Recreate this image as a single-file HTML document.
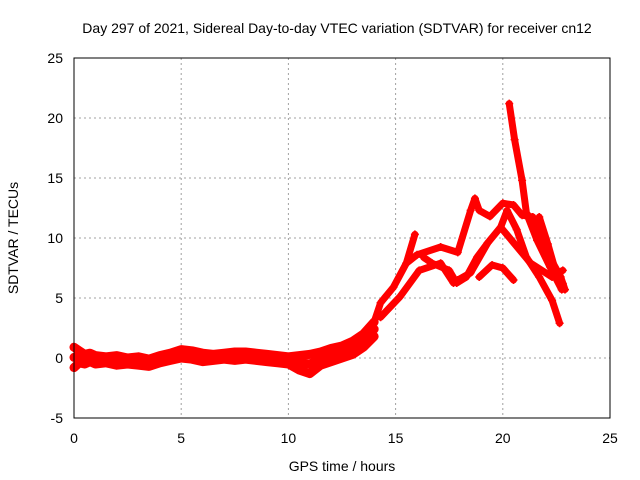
<!DOCTYPE html>
<html><head><meta charset="utf-8"><style>
body{margin:0;background:#fff;}
svg{display:block;font-family:"Liberation Sans",sans-serif;}
</style></head><body>
<svg id="chart" width="640" height="480">
<rect width="640" height="480" fill="#fff"/>
<text x="337" y="33" font-size="14" text-anchor="middle">Day 297 of 2021, Sidereal Day-to-day VTEC variation (SDTVAR) for receiver cn12</text>
<text x="342" y="471" font-size="14" text-anchor="middle">GPS time / hours</text>
<text x="0" y="0" font-size="14" text-anchor="middle" transform="translate(18,238) rotate(-90)">SDTVAR / TECUs</text>
<g id="grid"></g><g id="ticks"></g><g id="marks"></g>
<rect x="74" y="58" width="536" height="360" fill="none" stroke="#000" stroke-width="1"/>
</svg>
<script>
const xTicks=[0,5,10,15,20,25];
const yTicks=[-5,0,5,10,15,20,25];
const baseH=[0,0.25,0.5,0.75,1,1.5,2,2.5,3,3.5,4,4.5,5,5.5,6,6.5,7,7.5,8,8.5,9,9.5,10,10.5,11,11.5,12,12.5,13,13.5,14];
const baseA=[0.9,0.6,0.3,0.4,0.2,0.1,0.2,0.0,0.1,-0.1,0.2,0.4,0.7,0.6,0.4,0.3,0.4,0.5,0.5,0.4,0.3,0.2,0.1,0.2,0.3,0.5,0.8,1.0,1.4,2.0,3.0];
const baseB=[-0.8,-0.4,-0.5,-0.3,-0.5,-0.4,-0.6,-0.5,-0.6,-0.7,-0.4,-0.2,0.0,-0.1,-0.3,-0.2,-0.1,-0.2,-0.1,-0.2,-0.3,-0.4,-0.5,-1.0,-1.3,-0.6,-0.3,0.0,0.3,0.9,1.8];
const tracks=[
 [[14,3],[14.3,4.6],[14.9,5.9],[15.5,7.9],[15.9,10.3]],
 [[14.3,3.4],[15.2,5.1],[16.1,7.3],[17.1,7.9],[17.7,6.25],[17.9,6.5],[18.5,7.1],[19.3,9.6],[19.9,10.9],[20.2,12.3],[20.65,10.7],[21.1,8.4],[21.7,6.75],[22.3,4.8],[22.65,2.9]],
 [[15.5,7.9],[16.0,8.6],[17.1,9.25],[17.9,8.8],[18.5,12.3],[18.7,13.3],[18.9,12.3],[19.4,11.8],[20.0,12.9],[20.5,12.75],[20.9,11.9],[21.4,11.75],[22.0,9.0],[22.7,6.75],[22.9,5.7]],
 [[16.3,8.4],[16.7,7.9],[17.5,7.3],[17.85,6.25],[18.3,6.75],[18.8,8.4],[19.3,9.6]],
 [[18.9,6.75],[19.5,7.75],[20.0,7.5],[20.5,6.5]],
 [[20.3,21.2],[20.55,18.2],[20.9,14.8],[21.1,12.1],[21.6,9.8],[22.2,7.6],[22.75,5.7]],
 [[19.9,10.9],[21.3,7.9],[22.3,6.75],[22.8,7.3]],
 [[21.7,11.75],[22.1,9.5],[22.5,7.0],[22.8,6.2]]
];
const X=v=>74+v*21.44, Y=v=>358-v*12;
const NS='http://www.w3.org/2000/svg';
const mk=(t,a,p)=>{const e=document.createElementNS(NS,t);for(const k in a)e.setAttribute(k,a[k]);p.appendChild(e);return e;};
const grid=document.getElementById('grid'),ticks=document.getElementById('ticks'),marks=document.getElementById('marks');
xTicks.forEach(t=>{
 if(t>0&&t<25){const g=mk('line',{x1:X(t),x2:X(t),y1:58,y2:418,stroke:'#a0a0a0','stroke-dasharray':'2,3'},grid);
 }
 const l=mk('text',{x:X(t),y:443,'font-size':14,'text-anchor':'middle'},ticks);l.textContent=t;
 
});
yTicks.forEach(t=>{
 if(t>-5&&t<25){const g=mk('line',{x1:74,x2:610,y1:Y(t),y2:Y(t),stroke:'#a0a0a0','stroke-dasharray':'2,3'},grid);
 }
 const l=mk('text',{x:63,y:Y(t)+5,'font-size':14,'text-anchor':'end'},ticks);l.textContent=t;
 
});
function draw(pts,w,name){
 const p=mk('polyline',{points:pts.map(q=>X(q[0])+','+Y(q[1])).join(' '),fill:'none',stroke:'#f00','stroke-width':w,'stroke-linejoin':'round','stroke-linecap':'round'},marks);
 
 pts.forEach(q=>{const m=mk('path',{d:`M${X(q[0])-4},${Y(q[1])}h8M${X(q[0])},${Y(q[1])-4}v8`,stroke:'#f00','stroke-width':1.5},marks);
 });
}
draw(baseH.map((h,i)=>[h,baseA[i]]),9,'baseline-series-a');
draw(baseH.map((h,i)=>[h,baseB[i]]),9,'baseline-series-b');
draw(baseH.map((h,i)=>[h,(baseA[i]+baseB[i])/2]),9,'baseline-series-mid');
tracks.forEach((t,i)=>draw(t,7,'series-track-'+i));
</script>
</body></html>
